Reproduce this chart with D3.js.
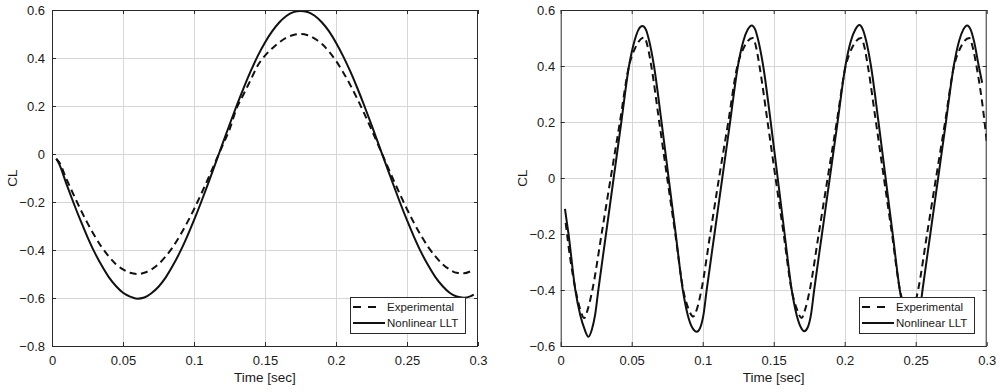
<!DOCTYPE html>
<html>
<head>
<meta charset="utf-8">
<script src="https://cdn.jsdelivr.net/npm/d3@7"></script>
<style>
  html, body { margin: 0; padding: 0; background: #fff; }
  svg { display: block; font-family: "Liberation Sans", Arial, Helvetica, sans-serif; }
</style>
</head>
<body>
<svg id="chart" width="1000" height="392"></svg>
<script>
// ---- data ----
const seriesNames = ["Experimental", "Nonlinear LLT"];

const xTicks = [0, 0.05, 0.1, 0.15, 0.2, 0.25, 0.3];
const xTickLabels = ["0", "0.05", "0.1", "0.15", "0.2", "0.25", "0.3"];
const leftYTicks = [-0.8, -0.6, -0.4, -0.2, 0, 0.2, 0.4, 0.6];
const leftYTickLabels = ["\u22120.8", "\u22120.6", "\u22120.4", "\u22120.2", "0", "0.2", "0.4", "0.6"];
const rightYTicks = [-0.6, -0.4, -0.2, 0, 0.2, 0.4, 0.6];
const rightYTickLabels = ["\u22120.6", "\u22120.4", "\u22120.2", "0", "0.2", "0.4", "0.6"];

// left panel, slow oscillation
const leftTime = [0.003, 0.005, 0.01, 0.015, 0.02, 0.025, 0.03, 0.035, 0.04, 0.045, 0.05, 0.055,
  0.06, 0.065, 0.07, 0.075, 0.08, 0.085, 0.09, 0.095, 0.1, 0.105, 0.11, 0.115,
  0.12, 0.125, 0.13, 0.135, 0.14, 0.145, 0.15, 0.155, 0.16, 0.165, 0.17, 0.175,
  0.18, 0.185, 0.19, 0.195, 0.2, 0.205, 0.21, 0.215, 0.22, 0.225, 0.23, 0.235,
  0.24, 0.245, 0.25, 0.255, 0.26, 0.265, 0.27, 0.275, 0.28, 0.285, 0.29, 0.295, 0.297];
const leftExpCL = [-0.02, -0.034, -0.102, -0.167, -0.23, -0.288, -0.341, -0.388, -0.427, -0.459, -0.481, -0.495,
  -0.5, -0.495, -0.481, -0.459, -0.427, -0.388, -0.341, -0.288, -0.23, -0.167, -0.102, -0.034,
  0.034, 0.102, 0.19, 0.25, 0.31, 0.37, 0.41, 0.44, 0.465, 0.485, 0.496, 0.5,
  0.495, 0.481, 0.459, 0.427, 0.388, 0.341, 0.288, 0.23, 0.167, 0.102, 0.034, -0.034,
  -0.102, -0.167, -0.23, -0.288, -0.341, -0.388, -0.427, -0.459, -0.481, -0.495, -0.497, -0.488, -0.482];
const leftLltCL = [-0.02, -0.041, -0.122, -0.201, -0.276, -0.346, -0.41, -0.465, -0.513, -0.55, -0.578, -0.594,
  -0.603, -0.598, -0.58, -0.553, -0.515, -0.466, -0.41, -0.346, -0.276, -0.201, -0.122, -0.041,
  0.041, 0.122, 0.201, 0.276, 0.346, 0.41, 0.465, 0.511, 0.548, 0.575, 0.591, 0.596,
  0.592, 0.576, 0.549, 0.512, 0.464, 0.408, 0.345, 0.275, 0.2, 0.121, 0.04, -0.041,
  -0.122, -0.201, -0.276, -0.346, -0.41, -0.465, -0.513, -0.55, -0.578, -0.594, -0.599, -0.592, -0.586];

// right panel, fast oscillation
const rightExpTime = [0.0035, 0.0065, 0.0105, 0.0135, 0.0166,
  0.019, 0.0223, 0.0288, 0.0352, 0.0417, 0.0481, 0.0525, 0.0589,
  0.0612, 0.0638, 0.0694, 0.075, 0.0807, 0.0863, 0.0898, 0.0934,
  0.0958, 0.0991, 0.1053, 0.1115, 0.118, 0.1244, 0.1289, 0.1352,
  0.1375, 0.14, 0.1457, 0.1513, 0.157, 0.1626, 0.1661, 0.1697,
  0.1721, 0.1754, 0.1817, 0.188, 0.1944, 0.2007, 0.2052, 0.2115,
  0.2138, 0.2163, 0.222, 0.2276, 0.2333, 0.2389, 0.2424, 0.246,
  0.2484, 0.2517, 0.258, 0.2643, 0.2707, 0.277, 0.2815, 0.2878,
  0.29, 0.2928, 0.2985, 0.3];
const rightExpCL = [-0.16, -0.28, -0.4, -0.465, -0.5,
  -0.47, -0.4, -0.2, 0, 0.2, 0.4, 0.465, 0.502,
  0.47, 0.4, 0.2, 0, -0.2, -0.4, -0.465, -0.495,
  -0.47, -0.4, -0.2, 0, 0.2, 0.4, 0.465, 0.5,
  0.47, 0.4, 0.2, 0, -0.2, -0.4, -0.465, -0.5,
  -0.47, -0.4, -0.2, 0, 0.2, 0.4, 0.465, 0.5,
  0.47, 0.4, 0.2, 0, -0.2, -0.4, -0.465, -0.5,
  -0.47, -0.4, -0.2, 0, 0.2, 0.4, 0.465, 0.5,
  0.47, 0.4, 0.2, 0.13];
const rightLltTime = [0.003, 0.0055, 0.0103, 0.0138, 0.0168, 0.0195,
  0.022, 0.0242, 0.0265, 0.0319, 0.0373, 0.0427, 0.0481, 0.052, 0.0548, 0.0575,
  0.06, 0.0623, 0.0657, 0.071, 0.076, 0.081, 0.086, 0.0895, 0.0927, 0.0958,
  0.0982, 0.1005, 0.1028, 0.1083, 0.1138, 0.1193, 0.1248, 0.1287, 0.1317, 0.1345,
  0.137, 0.1392, 0.1426, 0.1479, 0.1528, 0.1577, 0.1627, 0.1662, 0.1691, 0.1715,
  0.174, 0.1762, 0.1785, 0.184, 0.1895, 0.195, 0.2005, 0.2044, 0.2075, 0.2103,
  0.2128, 0.2151, 0.2185, 0.2238, 0.2288, 0.2338, 0.2388, 0.2423, 0.2454, 0.2478,
  0.2503, 0.2525, 0.2548, 0.2603, 0.2658, 0.2713, 0.2768, 0.2806, 0.2835, 0.2862,
  0.2887, 0.291, 0.2944, 0.2968];
const rightLltCL = [-0.11, -0.2, -0.4, -0.49, -0.54, -0.567,
  -0.54, -0.49, -0.4, -0.2, 0, 0.2, 0.4, 0.49, 0.53, 0.543,
  0.53, 0.49, 0.4, 0.2, 0, -0.2, -0.4, -0.49, -0.535, -0.549,
  -0.535, -0.49, -0.4, -0.2, 0, 0.2, 0.4, 0.49, 0.53, 0.545,
  0.53, 0.49, 0.4, 0.2, 0, -0.2, -0.4, -0.49, -0.533, -0.547,
  -0.533, -0.49, -0.4, -0.2, 0, 0.2, 0.4, 0.49, 0.53, 0.546,
  0.53, 0.49, 0.4, 0.2, 0, -0.2, -0.4, -0.49, -0.533, -0.545,
  -0.533, -0.49, -0.4, -0.2, 0, 0.2, 0.4, 0.49, 0.53, 0.545,
  0.53, 0.49, 0.4, 0.34];

// ---- layout ----
const TICK_LEN = 4;
const DASH = "7,4.5";
const AXIS_COLOR = "#2a2a2a";
const GRID_COLOR = "#d6d6d6";

const panels = [
  {
    id: "left", x0: 52, x1: 478, y0: 10, y1: 346,
    yDomain: [-0.8, 0.6], yTicks: leftYTicks, yLabels: leftYTickLabels, yPad: 7, ylabelX: 17,
    exp: leftTime.map((t, i) => [t, leftExpCL[i]]),
    llt: leftTime.map((t, i) => [t, leftLltCL[i]]),
    legendX: 350
  },
  {
    id: "right", x0: 560.7, x1: 986.7, y0: 10, y1: 346,
    yDomain: [-0.6, 0.6], yTicks: rightYTicks, yLabels: rightYTickLabels, yPad: 5.5, ylabelX: 527,
    exp: rightExpTime.map((t, i) => [t, rightExpCL[i]]),
    llt: rightLltTime.map((t, i) => [t, rightLltCL[i]]),
    legendX: 859
  }
];

const svg = d3.select("#chart");

panels.forEach((p) => {
  const x = d3.scaleLinear().domain([0, 0.3]).range([p.x0, p.x1]);
  const y = d3.scaleLinear().domain(p.yDomain).range([p.y1, p.y0]);
  const g = svg.append("g").attr("class", `panel-${p.id}`);

  // grid
  g.append("g").selectAll("line").data(xTicks.slice(1, -1)).join("line")
    .attr("x1", (d) => Math.round(x(d)) + 0.5).attr("x2", (d) => Math.round(x(d)) + 0.5)
    .attr("y1", p.y0).attr("y2", p.y1)
    .attr("stroke", GRID_COLOR).attr("stroke-width", 1);
  g.append("g").selectAll("line").data(p.yTicks.slice(1, -1)).join("line")
    .attr("x1", p.x0).attr("x2", p.x1)
    .attr("y1", (d) => Math.round(y(d)) + 0.5).attr("y2", (d) => Math.round(y(d)) + 0.5)
    .attr("stroke", GRID_COLOR).attr("stroke-width", 1);

  // curves, clipped to plot area
  const clipId = `clip-${p.id}`;
  svg.append("defs").append("clipPath").attr("id", clipId)
    .append("rect").attr("x", p.x0).attr("y", p.y0)
    .attr("width", p.x1 - p.x0).attr("height", p.y1 - p.y0);

  const line = d3.line().x((d) => x(d[0])).y((d) => y(d[1])).curve(d3.curveMonotoneX);
  const curves = g.append("g").attr("clip-path", `url(#${clipId})`);
  curves.append("path").datum(p.exp).attr("d", line)
    .attr("fill", "none").attr("stroke", "#111").attr("stroke-width", 2)
    .attr("stroke-dasharray", DASH);
  curves.append("path").datum(p.llt).attr("d", line)
    .attr("fill", "none").attr("stroke", "#111").attr("stroke-width", 2);

  // axes with inward ticks (box on)
  const fmtX = (d) => xTickLabels[xTicks.indexOf(d)];
  const fmtY = (d) => p.yLabels[p.yTicks.indexOf(d)];

  const styleAxis = (sel) => {
    sel.select(".domain").remove();
    sel.selectAll(".tick line").attr("stroke", AXIS_COLOR);
    sel.selectAll(".tick text").attr("fill", "#1a1a1a").attr("font-size", 13);
  };

  g.append("g").attr("transform", `translate(0,${p.y1})`)
    .call(d3.axisBottom(x).tickValues(xTicks).tickFormat(fmtX).tickSizeInner(-TICK_LEN).tickSizeOuter(0).tickPadding(10))
    .call(styleAxis);
  g.append("g").attr("transform", `translate(0,${p.y0})`)
    .call(d3.axisTop(x).tickValues(xTicks).tickFormat("").tickSizeInner(-TICK_LEN).tickSizeOuter(0))
    .call(styleAxis);
  g.append("g").attr("transform", `translate(${p.x0},0)`)
    .call(d3.axisLeft(y).tickValues(p.yTicks).tickFormat(fmtY).tickSizeInner(-TICK_LEN).tickSizeOuter(0).tickPadding(p.yPad))
    .call(styleAxis);
  g.append("g").attr("transform", `translate(${p.x1},0)`)
    .call(d3.axisRight(y).tickValues(p.yTicks).tickFormat("").tickSizeInner(-TICK_LEN).tickSizeOuter(0))
    .call(styleAxis);

  // frame
  g.append("rect")
    .attr("x", p.x0 + 0.5).attr("y", p.y0 + 0.5)
    .attr("width", p.x1 - p.x0 - 1).attr("height", p.y1 - p.y0)
    .attr("fill", "none").attr("stroke", AXIS_COLOR).attr("stroke-width", 1);

  // axis labels
  g.append("text")
    .attr("x", (p.x0 + p.x1) / 2).attr("y", 382)
    .attr("text-anchor", "middle").attr("font-size", 13.5).attr("fill", "#1a1a1a")
    .text("Time [sec]");
  g.append("text")
    .attr("transform", `translate(${p.ylabelX},${(p.y0 + p.y1) / 2}) rotate(-90)`)
    .attr("text-anchor", "middle").attr("font-size", 13.5).attr("fill", "#1a1a1a")
    .text("CL");

  // legend
  const lg = g.append("g").attr("transform", `translate(${p.legendX},297)`);
  lg.append("rect").attr("x", 0.5).attr("y", 0.5).attr("width", 115).attr("height", 36)
    .attr("fill", "#fff").attr("stroke", AXIS_COLOR).attr("stroke-width", 1);
  const rows = [
    { name: seriesNames[0], dash: "8,7", len: 24, yy: 10 },
    { name: seriesNames[1], dash: null, len: 32, yy: 26 }
  ];
  rows.forEach((r) => {
    lg.append("line").attr("x1", 3).attr("x2", 3 + r.len).attr("y1", r.yy).attr("y2", r.yy)
      .attr("stroke", "#111").attr("stroke-width", 2)
      .attr("stroke-dasharray", r.dash);
    lg.append("text").attr("x", 37).attr("y", r.yy + 4)
      .attr("font-size", 11.5).attr("fill", "#1a1a1a").text(r.name);
  });
});
</script>
</body>
</html>
